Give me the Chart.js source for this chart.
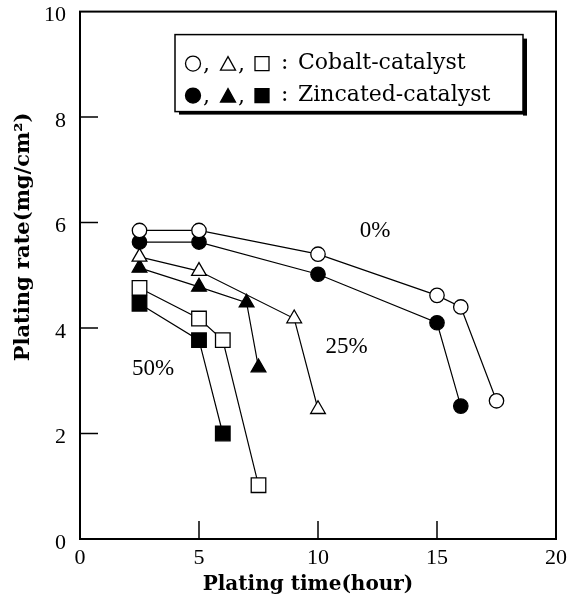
<!DOCTYPE html>
<html>
<head>
<meta charset="utf-8">
<script src="https://cdn.jsdelivr.net/npm/chart.js@4.4.0/dist/chart.umd.min.js"></script>
<style>
  body { margin: 0; background: #fff; }
</style>
</head>
<body>
<canvas id="chart" width="572" height="599"></canvas>
<script>
// plating time (hour) / plating rate (mg/cm2)
// open = cobalt catalyst, filled = zincated catalyst; 0%, 25%, 50%
const co0Time = [2.5, 5, 10, 15, 16, 17.5];
const co0Rate = [5.85, 5.85, 5.4, 4.62, 4.4, 2.62];
const zn0Time = [2.5, 5, 10, 15, 16];
const zn0Rate = [5.63, 5.63, 5.02, 4.1, 2.52];

const co25Time = [2.5, 5, 9, 10];
const co25Rate = [5.35, 5.08, 4.18, 2.46];
const zn25Time = [2.5, 5, 7, 7.5];
const zn25Rate = [5.14, 4.78, 4.48, 3.25];

const co50Time = [2.5, 5, 6, 7.5];
const co50Rate = [4.76, 4.18, 3.77, 1.02];
const zn50Time = [2.5, 5, 6];
const zn50Rate = [4.46, 3.77, 2.0];

// curve labels (in data coords)
const pctText = ['0%', '25%', '50%'];
const pctTime = [12.4, 11.2, 3.07];
const pctRate = [5.84, 3.65, 3.23];

const xTickMarks = [5, 10, 15];
const yTickMarks = [2, 4, 6, 8];

function pts(xs, ys) {
  return xs.map((x, i) => ({ x: x, y: ys[i] }));
}

function series(xs, ys, style, filled, r) {
  return {
    data: pts(xs, ys),
    showLine: true,
    tension: 0,
    borderColor: '#000',
    borderWidth: 1.2,
    pointStyle: style,
    pointRadius: r,
    pointHoverRadius: r,
    pointBackgroundColor: filled ? '#000' : '#fff',
    pointBorderColor: '#000',
    pointBorderWidth: 1.3
  };
}

const serif = 'Liberation Serif';
const wide = 'DejaVu Serif';

const decor = {
  id: 'decor',
  beforeDatasetsDraw(chart) {
    const ctx = chart.ctx, a = chart.chartArea;
    const xs = chart.scales.x, ys = chart.scales.y;
    ctx.save();
    ctx.strokeStyle = '#000';
    ctx.lineWidth = 2;
    ctx.strokeRect(a.left, a.top, a.right - a.left, a.bottom - a.top);
    ctx.lineWidth = 1.5;
    ctx.beginPath();
    xTickMarks.forEach(v => {
      const px = xs.getPixelForValue(v);
      ctx.moveTo(px, a.bottom);
      ctx.lineTo(px, a.bottom - 18);
    });
    yTickMarks.forEach(v => {
      const py = ys.getPixelForValue(v);
      ctx.moveTo(a.left, py);
      ctx.lineTo(a.left + 18, py);
    });
    ctx.stroke();
    ctx.restore();
  },
  afterDatasetsDraw(chart) {
    const ctx = chart.ctx, a = chart.chartArea;
    const xs = chart.scales.x, ys = chart.scales.y;
    ctx.save();
    ctx.fillStyle = '#000';
    ctx.strokeStyle = '#000';

    // curve labels
    ctx.font = '23px "' + serif + '"';
    ctx.textAlign = 'center';
    ctx.textBaseline = 'middle';
    pctText.forEach((t, i) => {
      ctx.fillText(t, xs.getPixelForValue(pctTime[i]), ys.getPixelForValue(pctRate[i]));
    });

    // legend box with shadow
    const L = a.left + 95, T = a.top + 23, R = a.left + 443, B = a.top + 100;
    ctx.fillRect(R, T + 4, 4, B - T);
    ctx.fillRect(L + 4, B, R - L, 3);
    ctx.fillStyle = '#fff';
    ctx.fillRect(L, T, R - L, B - T);
    ctx.fillStyle = '#000';
    ctx.lineWidth = 1.5;
    ctx.strokeRect(L, T, R - L, B - T);

    const rows = [{ y: T + 29, fill: false, text: 'Cobalt-catalyst' },
                  { y: T + 61, fill: true, text: 'Zincated-catalyst' }];
    rows.forEach(row => {
      ctx.lineWidth = 1.3;
      ctx.fillStyle = row.fill ? '#000' : '#fff';
      // circle
      ctx.beginPath();
      ctx.arc(L + 18, row.y, 7.5, 0, Math.PI * 2);
      ctx.fill(); ctx.stroke();
      // triangle
      const tx = L + 53, ty = row.y + 1;
      ctx.beginPath();
      ctx.moveTo(tx, ty - 8);
      ctx.lineTo(tx + 7.5, ty + 5.5);
      ctx.lineTo(tx - 7.5, ty + 5.5);
      ctx.closePath();
      ctx.fill(); ctx.stroke();
      // square
      ctx.beginPath();
      ctx.rect(L + 80, row.y - 7, 14, 14);
      ctx.fill(); ctx.stroke();

      ctx.fillStyle = '#000';
      ctx.textBaseline = 'middle';
      ctx.textAlign = 'left';
      ctx.font = '22px "' + wide + '"';
      ctx.fillText(',', L + 28, row.y + 2);
      ctx.fillText(',', L + 63, row.y + 2);
      ctx.fillText(':', L + 106, row.y);
      ctx.fillText(row.text, L + 123, row.y);
    });

    // axis titles
    ctx.font = 'bold 20px "' + wide + '"';
    ctx.textAlign = 'center';
    ctx.textBaseline = 'middle';
    ctx.fillText('Plating time(hour)', 308, 585);
    ctx.font = 'bold 21px "' + wide + '"';
    ctx.translate(24, 237);
    ctx.rotate(-Math.PI / 2);
    ctx.fillText('Plating rate(mg/cm\u00b2)', 0, 0);
    ctx.restore();
  }
};

new Chart(document.getElementById('chart'), {
  type: 'scatter',
  data: {
    datasets: [
      series(co0Time, co0Rate, 'circle', false, 7.2),
      series(zn0Time, zn0Rate, 'circle', true, 7.2),
      series(co25Time, co25Rate, 'triangle', false, 8.5),
      series(zn25Time, zn25Rate, 'triangle', true, 8.5),
      series(co50Time, co50Rate, 'rect', false, 10.3),
      series(zn50Time, zn50Rate, 'rect', true, 10.3)
    ]
  },
  options: {
    responsive: false,
    animation: false,
    layout: { padding: { top: 10, right: 16, left: 0, bottom: 0 } },
    plugins: { legend: { display: false }, tooltip: { enabled: false } },
    scales: {
      x: {
        type: 'linear', min: 0, max: 20,
        ticks: { stepSize: 5, color: '#000', padding: 6, font: { family: serif, size: 22 } },
        grid: { display: false, drawTicks: false },
        border: { display: false },
        afterFit(s) { s.height = 60; s.paddingLeft = 0; s.paddingRight = 0; }
      },
      y: {
        type: 'linear', min: 0, max: 10,
        ticks: { stepSize: 2, color: '#000', padding: 14, labelOffset: 4, font: { family: serif, size: 22 } },
        grid: { display: false, drawTicks: false },
        border: { display: false },
        afterFit(s) { s.width = 80; s.paddingTop = 0; s.paddingBottom = 0; }
      }
    }
  },
  plugins: [decor]
});
</script>
</body>
</html>
